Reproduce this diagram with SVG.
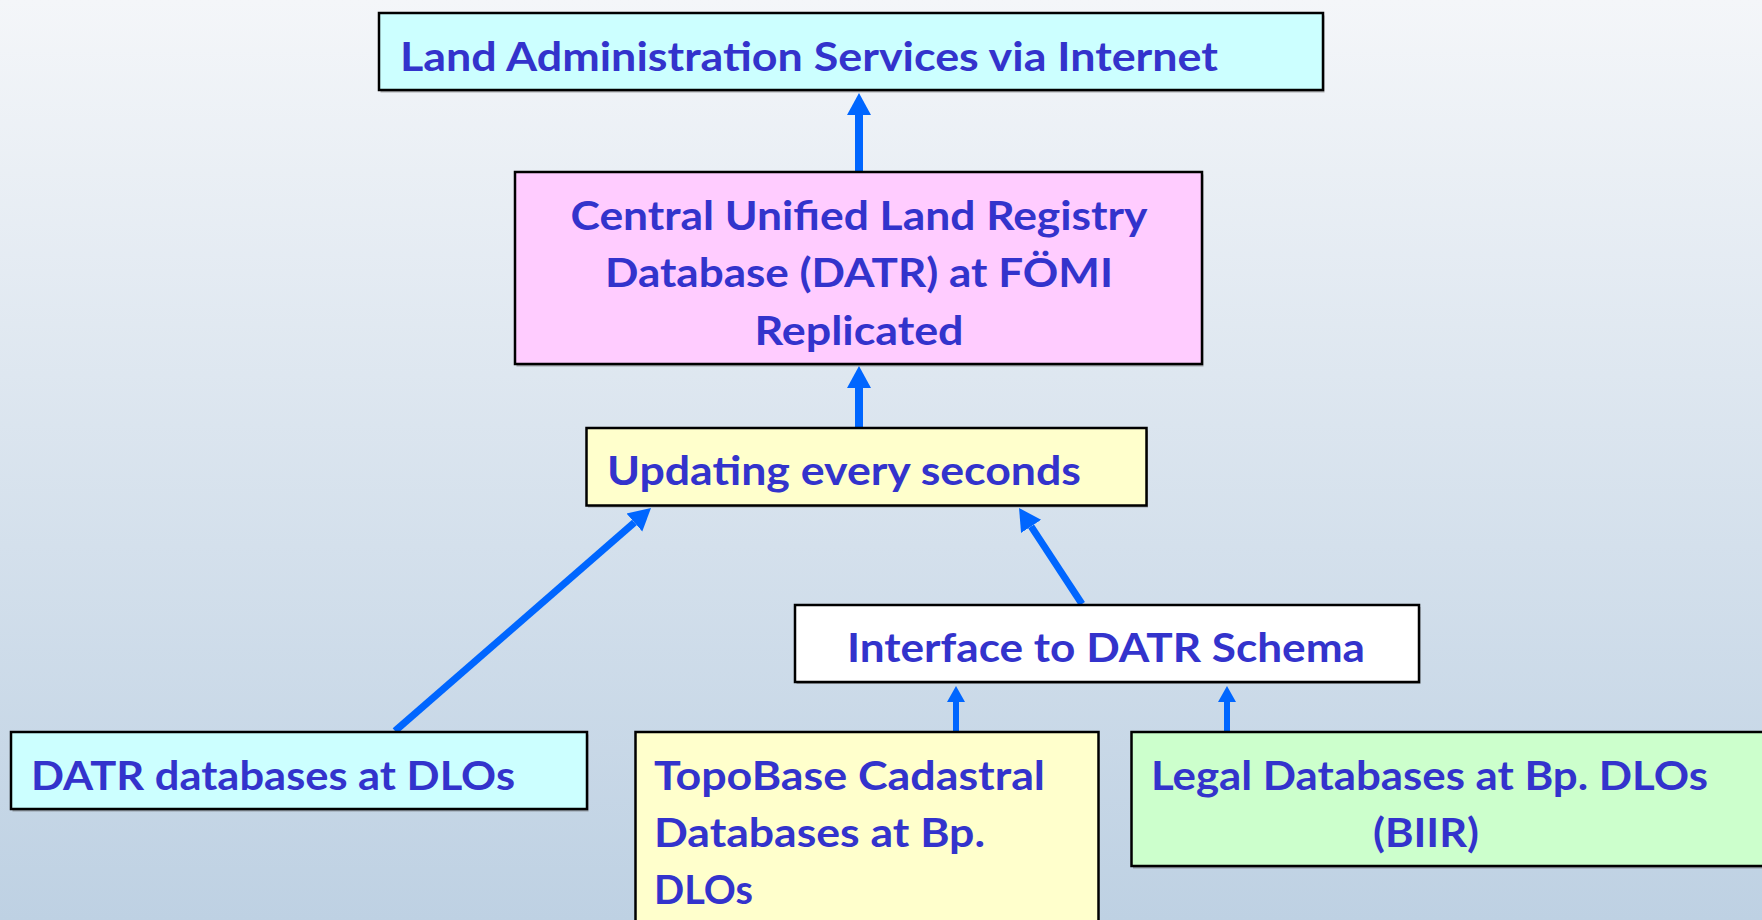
<svg xmlns="http://www.w3.org/2000/svg" width="1762" height="920" viewBox="0 0 1762 920">
<defs>
<linearGradient id="bg" x1="0" y1="0" x2="0" y2="1">
<stop offset="0" stop-color="#F4F6F9"/>
<stop offset="1" stop-color="#BED1E3"/>
</linearGradient>
<marker id="headL" markerUnits="userSpaceOnUse" markerWidth="24" markerHeight="26" viewBox="0 -13 24 26" refX="0" refY="0" orient="auto">
<path d="M0,-12 L22,0 L0,12 Z" fill="#0066FF"/>
</marker>
<marker id="headS" markerUnits="userSpaceOnUse" markerWidth="18" markerHeight="20" viewBox="0 -10 18 20" refX="0" refY="0" orient="auto">
<path d="M0,-9 L16,0 L0,9 Z" fill="#0066FF"/>
</marker>
</defs>
<style>
.box{stroke:#000;stroke-width:2.5}
.shadow{fill:#555;opacity:0.45}
.t{font-family:Lato,"Open Sans","Liberation Sans",sans-serif;font-weight:bold;font-size:41px;fill:#3333CC}
.c{text-anchor:middle}
.arr{stroke:#0066FF;fill:none}
</style>
<rect width="1762" height="920" fill="url(#bg)"/>

<g id="connectors">
<line class="arr" x1="859" y1="172" x2="859" y2="115" stroke-width="8" marker-end="url(#headL)"/>
<line class="arr" x1="859" y1="428" x2="859" y2="388" stroke-width="8" marker-end="url(#headL)"/>
<line class="arr" x1="395" y1="731" x2="634.4" y2="522.5" stroke-width="7" marker-end="url(#headL)"/>
<line class="arr" x1="1082" y1="604" x2="1031.1" y2="526.4" stroke-width="7" marker-end="url(#headL)"/>
<line class="arr" x1="956" y1="731" x2="956" y2="702" stroke-width="6" marker-end="url(#headS)"/>
<line class="arr" x1="1227" y1="731" x2="1227" y2="702" stroke-width="6" marker-end="url(#headS)"/>
</g>

<g id="node-internet">
<rect class="shadow" x="380.5" y="15.5" width="944" height="77"/>
<rect class="box" x="379" y="13" width="944" height="77" fill="#CCFFFF"/>
<text class="t" x="400" y="71" textLength="818" lengthAdjust="spacingAndGlyphs">Land Administration Services via Internet</text>
</g>

<g id="node-central">
<rect class="shadow" x="516.5" y="174.5" width="687" height="192"/>
<rect class="box" x="515" y="172" width="687" height="192" fill="#FFCCFF"/>
<text class="t c" x="859" y="230" textLength="577" lengthAdjust="spacingAndGlyphs">Central Unified Land Registry</text>
<text class="t c" x="859" y="287" textLength="508" lengthAdjust="spacingAndGlyphs">Database (DATR) at FÖMI</text>
<text class="t c" x="859" y="345" textLength="209" lengthAdjust="spacingAndGlyphs">Replicated</text>
</g>

<g id="node-updating">
<rect class="shadow" x="588" y="430.5" width="560" height="77"/>
<rect class="box" x="586.5" y="428" width="560" height="77.5" fill="#FFFFCC"/>
<text class="t" x="607" y="485" textLength="474" lengthAdjust="spacingAndGlyphs">Updating every seconds</text>
</g>

<g id="node-interface">
<rect class="shadow" x="796.5" y="607" width="624" height="77"/>
<rect class="box" x="795" y="605" width="624" height="77" fill="#FFFFFF"/>
<text class="t" x="847" y="662" textLength="518" lengthAdjust="spacingAndGlyphs">Interface to DATR Schema</text>
</g>

<g id="node-datr-dlos">
<rect class="shadow" x="12.5" y="734.5" width="576" height="77"/>
<rect class="box" x="11" y="732" width="576" height="77" fill="#CCFFFF"/>
<text class="t" x="31" y="790" textLength="484" lengthAdjust="spacingAndGlyphs">DATR databases at DLOs</text>
</g>

<g id="node-topobase">
<rect class="box" x="635.5" y="732" width="463" height="200" fill="#FFFFCC"/>
<text class="t" x="654" y="790" textLength="391" lengthAdjust="spacingAndGlyphs">TopoBase Cadastral</text>
<text class="t" x="654" y="847" textLength="331" lengthAdjust="spacingAndGlyphs">Databases at Bp.</text>
<text class="t" x="654" y="904" textLength="99" lengthAdjust="spacingAndGlyphs">DLOs</text>
</g>

<g id="node-legal">
<rect class="shadow" x="1133" y="734.5" width="640" height="134"/>
<rect class="box" x="1131.5" y="732" width="640" height="134" fill="#CCFFCC"/>
<text class="t" x="1151" y="790" textLength="557" lengthAdjust="spacingAndGlyphs">Legal Databases at Bp. DLOs</text>
<text class="t" x="1373" y="847" textLength="106" lengthAdjust="spacingAndGlyphs">(BIIR)</text>
</g>
</svg>
